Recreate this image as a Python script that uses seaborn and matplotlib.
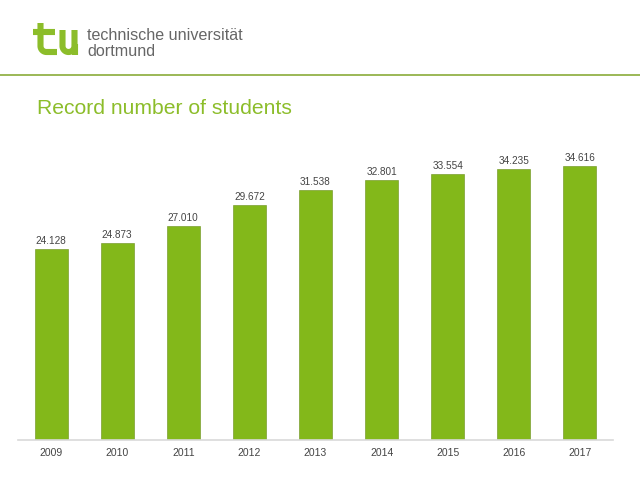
import matplotlib
matplotlib.use("Agg")
import matplotlib.pyplot as plt
import seaborn as sns
import pandas as pd
import numpy as np

years = ["2009", "2010", "2011", "2012", "2013", "2014", "2015", "2016", "2017"]
students = [24128, 24873, 27010, 29672, 31538, 32801, 33554, 34235, 34616]
bar_labels = ["24.128", "24.873", "27.010", "29.672", "31.538",
              "32.801", "33.554", "34.235", "34.616"]

title = "Record number of students"
uni_line1 = "technische universität"
uni_line2 = "dortmund"

green = "#83b81a"
logo_green = "#8cbd2a"
gray_text = "#666666"

sns.set_theme(style="white")
plt.rcParams["font.family"] = ["Liberation Sans", "DejaVu Sans"]

df = pd.DataFrame({"year": years, "students": students})

fig = plt.figure(figsize=(6.4, 4.8), dpi=100)
ax = fig.add_axes([18 / 640, 1 - 440 / 480, 595 / 640, 300 / 480])

sns.barplot(data=df, x="year", y="students", color=green, width=0.5,
            saturation=1, edgecolor="#6b8f1a", linewidth=0.4, ax=ax)
ax.bar_label(ax.containers[0], labels=bar_labels, padding=2,
             fontsize=7.2, color="#444444")

ax.set_xlim(-0.5, 8.5)
ax.set_ylim(0, 37860)
ax.set_xlabel("")
ax.set_ylabel("")
ax.set_yticks([])
ax.tick_params(axis="x", length=0, labelsize=7.5, colors="#444444", pad=6)
for side in ["top", "right", "left"]:
    ax.spines[side].set_visible(False)
ax.spines["bottom"].set_color("#d9d9d9")
ax.spines["bottom"].set_linewidth(1.2)

# header: logo, name, divider line (pixel coords, y downwards)
logo = fig.add_axes([0, 0, 1, 1], facecolor="none")
logo.set_xlim(0, 640)
logo.set_ylim(480, 0)
logo.axis("off")
lw = 4.4
style = dict(color=logo_green, lw=lw, solid_capstyle="butt", solid_joinstyle="round")

# "t": crossbar + stem bending right at the bottom
logo.plot([33, 55], [31.5, 31.5], **style)
a = np.linspace(np.pi, np.pi / 2, 20)
tx = np.concatenate([[40.5], 46.5 + 6 * np.cos(a), [57]])
ty = np.concatenate([[23], 46 + 6 * np.sin(a), [52]])
logo.plot(tx, ty, **style)

# "u": round bowl, right stem runs down to baseline
a = np.linspace(np.pi, 0, 30)
ux = np.concatenate([[62.5], 68.5 + 6 * np.cos(a), [74.5]])
uy = np.concatenate([[30], 46 + 6 * np.sin(a), [30]])
logo.plot(ux, uy, **style)
logo.plot([74.5, 74.5], [44, 55], **style)

logo.text(87, 36, uni_line1, fontsize=11.6, color=gray_text, va="center", ha="left")
logo.text(87, 52, uni_line2, fontsize=11.6, color=gray_text, va="center", ha="left")
logo.plot([0, 640], [75, 75], color="#8aab3a", lw=1.2)

logo.text(37, 108, title, fontsize=15.2, color="#8cbd2a", va="center", ha="left")

fig.savefig("out.png", dpi=100)
